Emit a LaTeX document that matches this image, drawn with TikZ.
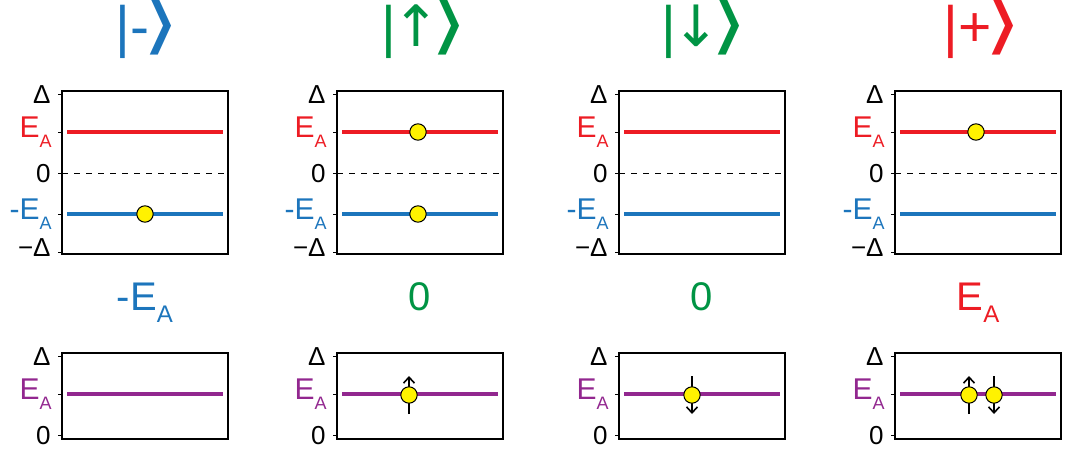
\documentclass[tikz,border=0pt]{standalone}
\usepackage{fontspec}
\setmainfont{Liberation Sans}
\newfontfamily\symfont{DejaVu Sans}
\usepackage{xcolor}
\usepackage{tikz}
\usetikzlibrary{arrows.meta}
\definecolor{ketBlue}{HTML}{1C75BC}
\definecolor{ketRed}{HTML}{ED1C24}
\definecolor{ketGreen}{HTML}{009444}
\definecolor{ketPurple}{HTML}{92278F}
\definecolor{ketYellow}{HTML}{FFF200}
\newcommand{\titlefont}{\fontsize{28.5}{30}\selectfont}
\newcommand{\energyfont}{\fontsize{20}{22}\selectfont}
\newcommand{\tickEA}{E\raisebox{-5pt}{\fontsize{9}{9}\selectfont A}}
\newcommand{\bigEA}{E\raisebox{-6pt}{\fontsize{12}{12}\selectfont A}}
\newcommand{\ketsym}[1]{|#1\kern-3.5pt{\symfont\scalebox{2.3}[1.55]{\fontsize{21}{24}\selectfont ⟩}}\kern-3pt}

\begin{document}
\begin{tikzpicture}[x=0.5pt, y=-0.5pt,
    levelline/.style={line width=1.65pt},
    frame/.style={line width=1.35pt},
    tickmark/.style={line width=0.5pt},
    ticklabel/.style={anchor=east, inner sep=0pt},
    elec/.style={circle, draw=black, line width=0.5pt, fill=ketYellow, minimum size=8.2pt, inner sep=0pt},
    spin/.style={line width=0.8pt, -{Straight Barb[length=3pt, width=5.5pt]}}]
    \useasboundingbox (0,0) rectangle (1070,455);
    \foreach \px/\n in {62/1,337/2,619/3,895/4} {
        \draw[frame] (\px,91) rectangle ++(166,163);
        \foreach \ty in {94,132,173,214,252}
            \draw[tickmark] (\px-4,\ty) -- (\px,\ty);
        \draw[dashed, line width=0.5pt] (\px,173) -- (\px+166,173);
        \draw[levelline, ketRed] (\px+5,132) -- (\px+161,132);
        \draw[levelline, ketBlue] (\px+5,214) -- (\px+161,214);
        \node[ticklabel] (up\n) at (\px-11,95) {\fontsize{13}{13}\selectfont Δ};
        \node[ticklabel, ketRed] (ea\n) at (\px-10,132) {\fontsize{15}{15}\selectfont\tickEA};
        \node[ticklabel] (zero\n) at (\px-11,174) {\fontsize{13}{13}\selectfont 0};
        \node[ticklabel, ketBlue] (mea\n) at (\px-10,214) {\fontsize{15}{15}\selectfont -\tickEA};
        \node[ticklabel] (dn\n) at (\px-11,248) {\fontsize{13}{13}\selectfont −Δ};
        \draw[frame] (\px,353) rectangle ++(166,86);
        \foreach \ty in {356,394,435}
            \draw[tickmark] (\px-4,\ty) -- (\px,\ty);
        \draw[levelline, ketPurple] (\px+5,394) -- (\px+161,394);
        \node[ticklabel] (bup\n) at (\px-11,357) {\fontsize{13}{13}\selectfont Δ};
        \node[ticklabel, ketPurple] (bea\n) at (\px-10,394) {\fontsize{15}{15}\selectfont\tickEA};
        \node[ticklabel] (bzero\n) at (\px-11,436) {\fontsize{13}{13}\selectfont 0};
    }
    \node[ketBlue, font=\titlefont] (kminus) at (145,28) {\ketsym{-}};
    \node[ketGreen, font=\titlefont] (kup) at (422,28) {\ketsym{\kern-2pt{\symfont ↑}\kern-1pt}};
    \node[ketGreen, font=\titlefont] (kdown) at (702,28) {\ketsym{\kern-2pt{\symfont ↓}\kern-1pt}};
    \node[ketRed, font=\titlefont] (kplus) at (980,28) {\ketsym{+}};
    \node[ketBlue, anchor=base, font=\energyfont] (eminus) at (145,310) {-\bigEA};
    \node[ketGreen, anchor=base, font=\energyfont] (eup) at (420,310) {0};
    \node[ketGreen, anchor=base, font=\energyfont] (edown) at (702,310) {0};
    \node[ketRed, anchor=base, font=\energyfont] (eplus) at (978,310) {\bigEA};
    \node[elec] (e1) at (145,214) {};
    \node[elec] (e2a) at (418,132) {};
    \node[elec] (e2b) at (418,214) {};
    \node[elec] (e4) at (976,132) {};
    \coordinate (s2) at (409,395);
    \coordinate (s3) at (692,395);
    \coordinate (s4a) at (969,395);
    \coordinate (s4b) at (994,395);
    \draw[spin] ([yshift=-9.5pt]s2) -- ([yshift=9.5pt]s2);
    \draw[spin] ([yshift=9.5pt]s3) -- ([yshift=-9.5pt]s3);
    \draw[spin] ([yshift=-9.5pt]s4a) -- ([yshift=9.5pt]s4a);
    \draw[spin] ([yshift=9.5pt]s4b) -- ([yshift=-9.5pt]s4b);
    \node[elec] (b2) at (s2) {};
    \node[elec] (b3) at (s3) {};
    \node[elec] (b4a) at (s4a) {};
    \node[elec] (b4b) at (s4b) {};
\end{tikzpicture}
\end{document}
